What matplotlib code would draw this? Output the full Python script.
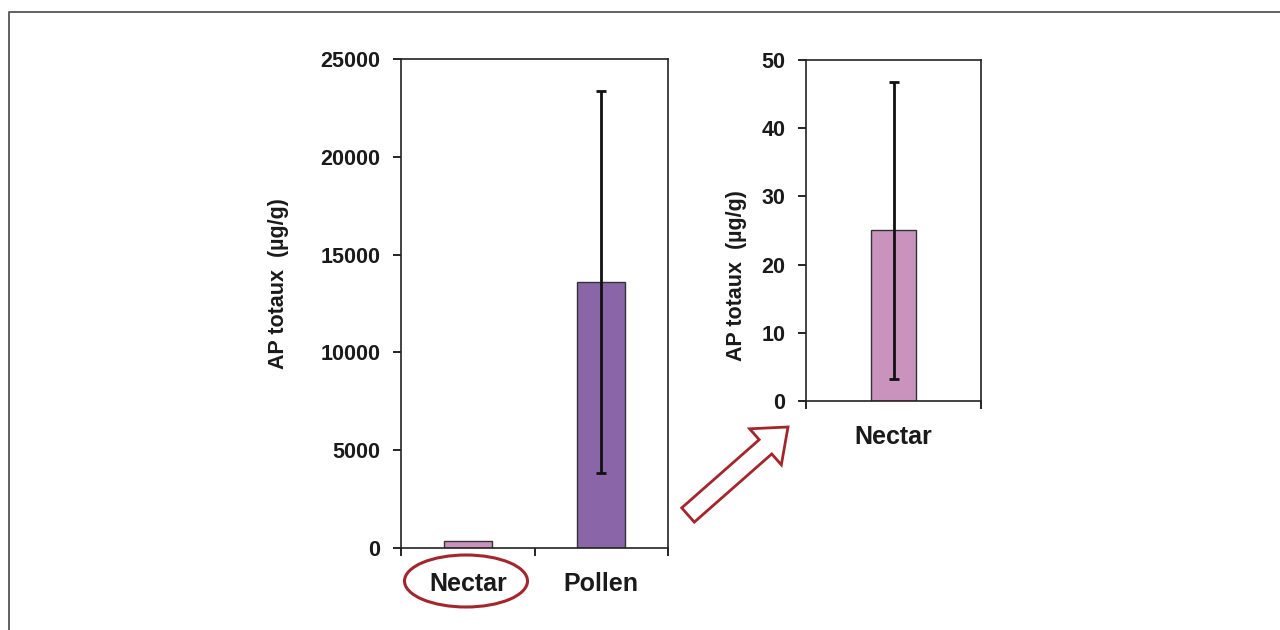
import matplotlib.pyplot as plt
from matplotlib.patches import Ellipse, FancyArrow
from matplotlib.lines import Line2D

plt.rcParams["font.family"] = ["Liberation Sans", "DejaVu Sans"]
plt.rcParams["font.weight"] = "bold"

# valeurs
categories = ["Nectar", "Pollen"]
ap_means = [340, 13600]
ap_err = [0, 9760]

zoom_categories = ["Nectar"]
zoom_means = [25]
zoom_err = [21.8]

yticks_left = [0, 5000, 10000, 15000, 20000, 25000]
yticks_right = [0, 10, 20, 30, 40, 50]

bar_colors = {"Nectar": "#c993bd", "Pollen": "#8a66a8"}
red = "#a3262c"
ylabel = "AP totaux  (µg/g)"

fig = plt.figure(figsize=(12.8, 6.3), dpi=100)


def style_axes(ax, n, ylim, yticks, tick_fs):
    ax.set_xlim(-0.5, n - 0.5)
    ax.set_ylim(*ylim)
    ax.set_yticks(yticks)
    ax.set_yticklabels([str(t) for t in yticks], fontsize=tick_fs, fontweight="bold", color="#1a1a1a")
    ax.tick_params(axis="y", direction="out", length=6, width=1.2, pad=9)
    # ticks de separation entre categories
    ax.set_xticks([i - 0.5 for i in range(n + 1)], minor=True)
    ax.tick_params(axis="x", which="minor", direction="out", length=6, width=1.2)
    ax.tick_params(axis="x", which="major", length=0, pad=17)
    for s in ax.spines.values():
        s.set_linewidth(1.2)
        s.set_color("#222222")


# graphique de gauche
ax1 = fig.add_axes([0.3133, 0.1302, 0.2086, 0.7762])
x1 = list(range(len(categories)))
ax1.bar(x1, ap_means, width=0.36, color=[bar_colors[c] for c in categories],
        edgecolor="#333333", linewidth=1)
for xi, m, e in zip(x1, ap_means, ap_err):
    if e > 0:
        ax1.errorbar(xi, m, yerr=e, fmt="none", ecolor="#111111", elinewidth=2, capsize=3.6, capthick=2)
ax1.set_xticks(x1)
ax1.set_xticklabels(categories, fontsize=18, fontweight="bold", color="#1a1a1a")
style_axes(ax1, len(categories), (0, 25000), yticks_left, 15.5)
ax1.set_ylabel(ylabel, fontsize=15.5, fontweight="bold", color="#1a1a1a")
ax1.yaxis.set_label_coords(-0.418, 0.54)

# graphique de droite (zoom sur le nectar)
ax2 = fig.add_axes([0.6297, 0.3635, 0.1367, 0.5413])
x2 = list(range(len(zoom_categories)))
ax2.bar(x2, zoom_means, width=0.26, color=[bar_colors[c] for c in zoom_categories],
        edgecolor="#333333", linewidth=1)
ax2.errorbar(x2, zoom_means, yerr=zoom_err, fmt="none", ecolor="#111111", elinewidth=2, capsize=3.6, capthick=2)
ax2.set_xticks(x2)
ax2.set_xticklabels(zoom_categories, fontsize=18, fontweight="bold", color="#1a1a1a")
style_axes(ax2, len(zoom_categories), (0, 50), yticks_right, 15.5)
ax2.set_ylabel(ylabel, fontsize=15.5, fontweight="bold", color="#1a1a1a")
ax2.yaxis.set_label_coords(-0.337, 0.368)

# calque en pixels pour le cadre, l'ellipse et la fleche
over = fig.add_axes([0, 0, 1, 1], zorder=5)
over.set_xlim(0, 1280)
over.set_ylim(630, 0)
over.axis("off")
over.patch.set_alpha(0)

over.add_line(Line2D([9, 9, 1280], [630, 12, 12], color="#555555", linewidth=1.3))
over.add_patch(Ellipse((466, 581), 123, 52, fill=False, edgecolor=red, linewidth=2.2))
over.add_patch(FancyArrow(688, 515, 100, -88, width=19, head_width=48, head_length=30,
                          length_includes_head=True, facecolor="white", edgecolor=red, linewidth=2))

fig.savefig("out.png", dpi=100)
